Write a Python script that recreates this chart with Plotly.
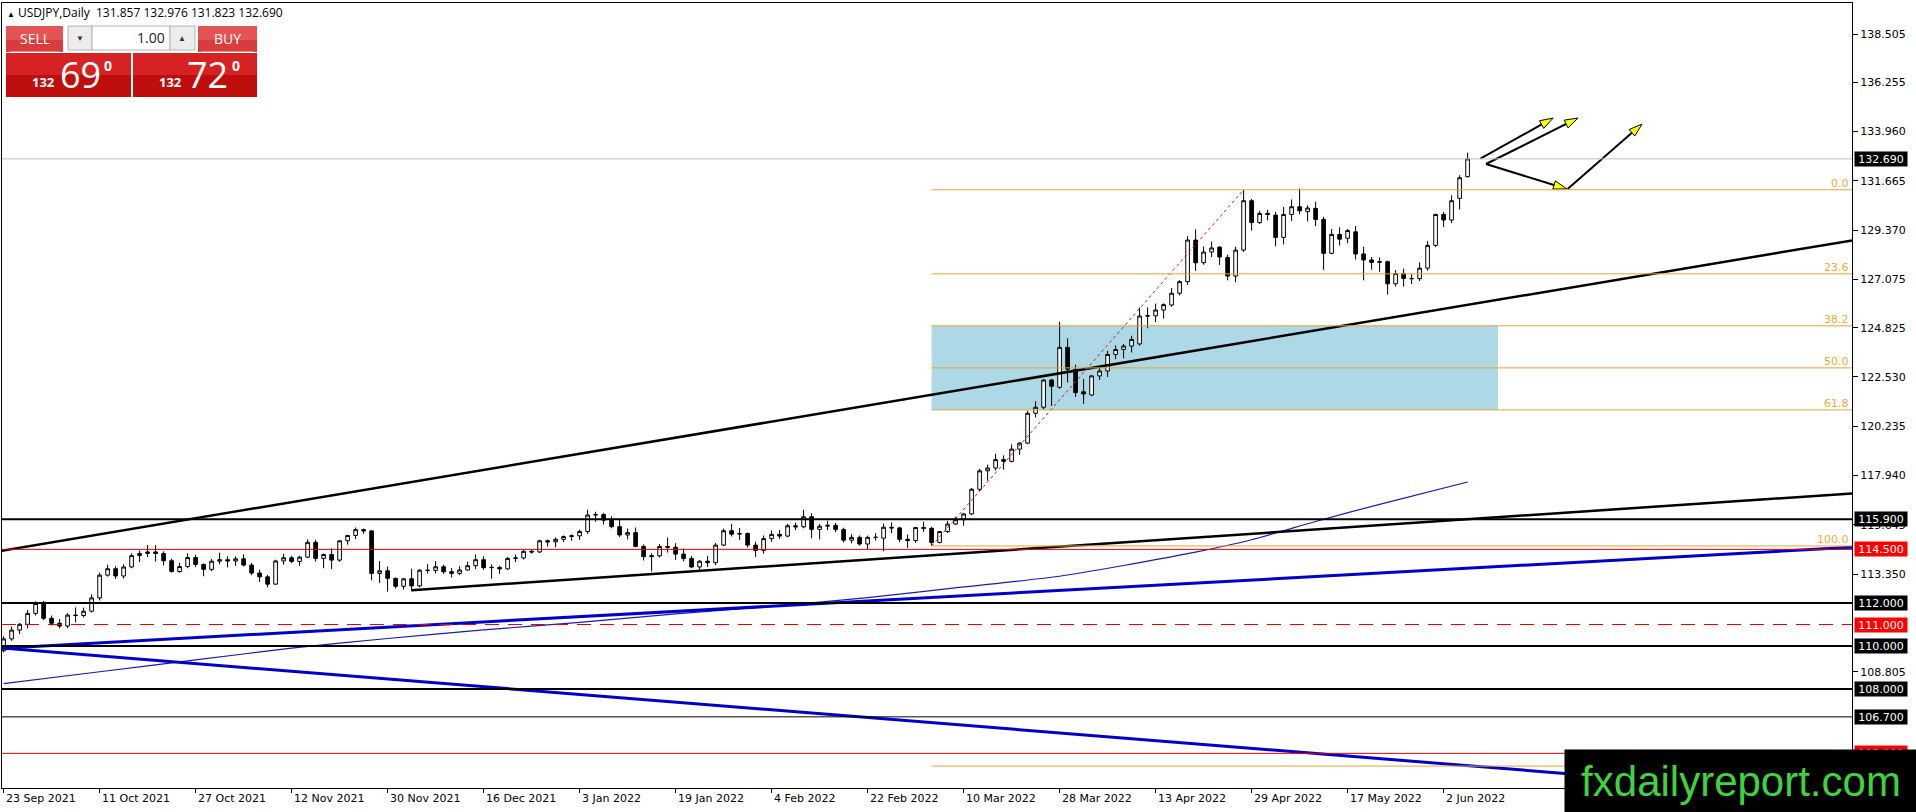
import plotly.graph_objects as go

# daily USDJPY candles, one bar per weekday, bar 0 = 23 Sep 2021, bar 183 = 7 Jun 2022
OPEN = [109.78, 110.33, 110.74, 111.01, 111.52, 111.98, 111.29, 111.06, 110.93, 111.44,
        111.42, 111.62, 112.24, 113.30, 113.60, 113.26, 113.68, 114.21, 114.31, 114.38,
        114.31, 113.97, 113.47, 113.70, 114.12, 113.80, 113.57, 113.95, 114.02, 113.96,
        114.06, 113.77, 113.40, 113.22, 112.88, 113.96, 114.11, 113.94, 114.14, 114.83,
        114.08, 114.26, 114.00, 114.90, 115.15, 115.42, 115.36, 113.38, 113.50, 113.15,
        112.78, 113.13, 112.80, 113.53, 113.52, 113.69, 113.46, 113.38, 113.54, 113.74,
        114.02, 113.65, 113.66, 113.59, 114.08, 114.10, 114.41, 114.38, 114.90, 114.85,
        114.97, 115.10, 115.13, 115.33, 116.10, 116.12, 115.86, 115.56, 115.17, 115.28,
        114.64, 114.16, 114.20, 114.63, 114.60, 114.28, 114.07, 113.68, 113.95, 113.88,
        114.70, 115.37, 115.21, 115.24, 114.70, 114.45, 115.00, 115.20, 115.12, 115.60,
        115.55, 116.02, 115.43, 115.58, 115.62, 115.43, 114.93, 115.06, 114.75, 115.06,
        115.02, 115.53, 115.50, 114.97, 114.91, 115.52, 115.48, 114.82, 115.33, 115.68,
        115.88, 116.15, 117.30, 118.16, 118.29, 118.68, 118.60, 119.17, 119.45, 120.84,
        121.12, 122.39, 122.05, 123.91, 122.89, 121.84, 121.69, 122.58, 122.81, 123.58,
        123.81, 123.97, 124.07, 125.37, 125.38, 125.65, 125.88, 126.43, 126.97, 128.91,
        127.85, 128.35, 128.58, 128.10, 127.23, 128.44, 130.74, 129.72, 130.15, 130.07,
        129.03, 130.10, 130.46, 130.23, 130.38, 129.87, 128.29, 129.17, 128.99, 129.29,
        128.26, 127.98, 127.87, 127.90, 126.87, 127.35, 127.12, 127.11, 127.60, 128.66,
        130.10, 129.84, 130.85, 131.857]
HIGH = [110.45, 110.90, 111.07, 111.68, 112.08, 112.10, 111.42, 111.26, 111.53, 111.80,
        111.79, 112.40, 113.42, 113.79, 113.72, 113.81, 114.32, 114.45, 114.70, 114.70,
        114.41, 114.07, 113.88, 114.32, 114.25, 113.85, 114.05, 114.35, 114.18, 114.18,
        114.27, 113.87, 113.55, 113.31, 114.02, 114.30, 114.20, 114.21, 114.97, 114.95,
        114.31, 114.55, 114.93, 115.16, 115.52, 115.47, 115.40, 113.96, 113.70, 113.18,
        113.17, 113.60, 113.58, 113.81, 113.96, 113.79, 113.64, 113.72, 113.93, 114.26,
        114.18, 113.80, 113.75, 114.15, 114.26, 114.48, 114.51, 114.95, 114.96, 115.06,
        115.15, 115.20, 115.42, 116.35, 116.25, 116.20, 116.04, 115.87, 115.48, 115.52,
        114.73, 114.32, 114.75, 115.05, 114.79, 114.54, 114.20, 114.00, 114.20, 114.80,
        115.47, 115.69, 115.50, 115.29, 114.86, 115.15, 115.38, 115.40, 115.69, 115.74,
        116.34, 116.18, 115.68, 115.83, 115.73, 115.51, 115.21, 115.15, 115.14, 115.25,
        115.70, 115.76, 115.55, 115.19, 115.54, 115.79, 115.55, 115.35, 115.82, 116.02,
        116.20, 117.36, 118.25, 118.45, 118.95, 118.88, 119.39, 119.50, 120.96, 121.40,
        122.42, 122.44, 125.10, 124.33, 123.10, 122.44, 122.62, 123.04, 123.75, 124.00,
        124.07, 124.45, 125.76, 125.77, 125.95, 125.96, 126.68, 127.04, 129.09, 129.40,
        128.61, 128.84, 128.62, 128.23, 128.60, 131.25, 130.82, 130.27, 130.32, 130.22,
        130.45, 130.80, 131.31, 130.53, 130.69, 129.99, 129.42, 129.50, 129.42, 129.56,
        128.60, 128.12, 128.10, 127.95, 127.51, 127.58, 127.33, 127.87, 128.87, 130.14,
        130.22, 130.99, 131.93, 132.976]
LOW = [109.70, 110.24, 110.56, 110.82, 111.42, 111.21, 110.95, 110.82, 110.83, 111.10,
       111.33, 111.56, 112.12, 113.23, 113.12, 113.14, 113.62, 113.91, 114.14, 113.93,
       113.75, 113.42, 113.41, 113.62, 113.67, 113.25, 113.48, 113.81, 113.66, 113.73,
       113.71, 113.30, 112.98, 112.73, 112.86, 113.79, 113.86, 113.73, 114.09, 113.93,
       113.62, 113.58, 113.92, 114.72, 114.98, 115.23, 113.06, 112.93, 112.53, 112.68,
       112.63, 112.55, 112.73, 113.37, 113.38, 113.36, 113.19, 113.30, 113.52, 113.58,
       113.55, 113.14, 113.36, 113.55, 113.91, 114.03, 114.30, 114.33, 114.63, 114.60,
       114.84, 114.90, 114.94, 115.22, 115.79, 115.66, 115.48, 115.07, 114.96, 114.60,
       113.98, 113.47, 114.12, 114.35, 114.01, 113.94, 113.62, 113.47, 113.68, 113.76,
       114.65, 115.10, 114.94, 114.58, 114.15, 114.30, 114.85, 114.99, 115.06, 115.40,
       115.48, 115.02, 114.96, 115.40, 115.30, 114.82, 114.78, 114.68, 114.52, 114.91,
       114.41, 115.26, 114.84, 114.57, 114.80, 115.32, 114.66, 114.78, 115.26, 115.63,
       115.60, 116.09, 117.21, 117.70, 118.17, 118.21, 118.55, 118.90, 119.40, 120.64,
       121.01, 121.18, 121.98, 122.27, 121.60, 121.28, 121.64, 122.39, 122.53, 123.36,
       123.40, 123.67, 123.99, 124.80, 125.09, 125.25, 125.80, 126.33, 126.82, 127.47,
       127.76, 128.12, 127.75, 127.03, 126.95, 128.36, 129.35, 129.66, 129.82, 128.62,
       128.70, 129.80, 130.11, 129.77, 129.56, 127.51, 128.25, 128.65, 128.76, 128.00,
       127.03, 127.53, 127.43, 126.37, 126.74, 126.74, 126.86, 127.00, 127.48, 128.58,
       129.52, 129.70, 130.33, 131.823]
CLOSE = [110.33, 110.74, 111.01, 111.52, 111.98, 111.29, 111.06, 110.93, 111.44, 111.42,
         111.62, 112.24, 113.30, 113.60, 113.26, 113.68, 114.21, 114.31, 114.38, 114.31,
         113.97, 113.47, 113.70, 114.12, 113.80, 113.57, 113.95, 114.02, 113.96, 114.06,
         113.77, 113.40, 113.22, 112.88, 113.96, 114.11, 113.94, 114.14, 114.83, 114.08,
         114.26, 114.00, 114.90, 115.15, 115.42, 115.36, 113.38, 113.50, 113.15, 112.78,
         113.13, 112.80, 113.53, 113.52, 113.69, 113.46, 113.38, 113.54, 113.74, 114.02,
         113.65, 113.66, 113.59, 114.08, 114.10, 114.41, 114.38, 114.90, 114.85, 114.97,
         115.10, 115.13, 115.33, 116.10, 116.12, 115.86, 115.56, 115.17, 115.28, 114.64,
         114.16, 114.20, 114.63, 114.60, 114.28, 114.07, 113.68, 113.95, 113.88, 114.70,
         115.37, 115.21, 115.24, 114.70, 114.45, 115.00, 115.20, 115.12, 115.60, 115.55,
         116.02, 115.43, 115.58, 115.62, 115.43, 114.93, 115.06, 114.75, 115.06, 115.06,
         115.53, 115.50, 114.97, 114.91, 115.52, 115.48, 114.82, 115.33, 115.68, 115.88,
         116.15, 117.30, 118.16, 118.29, 118.68, 118.60, 119.17, 119.45, 120.84, 121.12,
         122.39, 122.10, 123.91, 122.89, 121.80, 121.74, 122.58, 122.81, 123.58, 123.81,
         123.97, 124.28, 125.37, 125.38, 125.65, 125.90, 126.43, 126.97, 128.91, 127.85,
         128.35, 128.54, 128.12, 127.23, 128.44, 130.74, 129.72, 130.15, 130.10, 129.03,
         130.10, 130.46, 130.27, 130.40, 129.87, 128.29, 129.17, 128.95, 129.35, 128.26,
         127.98, 127.87, 127.90, 126.87, 127.35, 127.12, 127.11, 127.60, 128.66, 130.10,
         129.84, 130.74, 131.81, 132.690]
BARS = list(range(len(OPEN)))

# moving average (thin blue), read at a few bars
MA_BARS = [0, 12, 24, 36, 48, 60, 72, 84, 96, 108, 120, 132, 140, 148, 156, 164, 172, 183]
MA_VALUES = [108.25, 108.80, 109.35, 109.90, 110.35, 110.75, 111.10, 111.50, 111.85, 112.25,
             112.75, 113.25, 113.75, 114.30, 114.95, 115.80, 116.60, 117.64]

DATE_TICK_BARS = [0, 12, 24, 36, 48, 60, 72, 84, 96, 108, 120, 132, 144, 156, 168, 180]
DATE_TICK_LABELS = ["23 Sep 2021", "11 Oct 2021", "27 Oct 2021", "12 Nov 2021", "30 Nov 2021",
                    "16 Dec 2021", "3 Jan 2022", "19 Jan 2022", "4 Feb 2022", "22 Feb 2022",
                    "10 Mar 2022", "28 Mar 2022", "13 Apr 2022", "29 Apr 2022", "17 May 2022",
                    "2 Jun 2022"]
PRICE_TICKS = [138.505, 136.255, 133.960, 131.665, 129.370, 127.075, 124.825, 122.530,
               120.235, 117.940, 115.645, 113.350, 108.805]

# horizontal levels and their tags on the price scale
LEVEL_PRICES = [115.900, 114.500, 112.000, 111.000, 110.000, 108.000, 106.700, 105.000]
LEVEL_STYLES = ["black", "red", "black", "reddash", "black", "black", "thin", "red"]
CURRENT_PRICE = 132.690

# fibonacci retracement: from the 4 Mar low to the 28 Apr high
FIB_BARS = [116, 155]
FIB_PRICES = [114.66, 131.25]
FIB_RATIOS = [0.0, 23.6, 38.2, 50.0, 61.8, 100.0, 161.8]
ZONE_END_BAR = 186.8

# trendlines (bar, price) pairs
UPPER_TREND = ([-1, 232], [114.39, 128.95])
LOWER_TREND = ([51, 232], [112.60, 117.13])
BLUE_RISING = ([-1, 232], [109.88, 114.62])
BLUE_FALLING = ([-1, 232], [109.93, 102.96])

# projection arrows
ARROW_BARS = [[184.6, 193.7], [185.3, 196.8], [185.3, 195.4], [195.5, 204.8]]
ARROW_PRICES = [[132.70, 134.59], [132.45, 134.59], [132.45, 131.29], [131.29, 134.31]]

# ---- page geometry (pixels) ----
FW, FH = 1916, 812
L, T, R, B = 2, 3, 64, 24
PW, PH = FW - L - R, FH - T - B
X_RANGE = [-0.2, 231.05]
Y_RANGE = [103.386, 139.949]


def px(x):
    return (x - L) / PW


def py(y):
    return (FH - B - y) / PH


AXIS_FONT = dict(family="DejaVu Sans", size=11, color="black")
FIB_COLOR = "#e5a533"

fig = go.Figure()

fig.add_trace(go.Candlestick(
    x=BARS, open=OPEN, high=HIGH, low=LOW, close=CLOSE,
    increasing=dict(line=dict(color="black", width=1), fillcolor="white"),
    decreasing=dict(line=dict(color="black", width=1), fillcolor="black"),
    whiskerwidth=0, hoverinfo="skip",
))

fig.add_trace(go.Scatter(x=MA_BARS, y=MA_VALUES, mode="lines",
                         line=dict(color="#1c1cb0", width=1.2, shape="spline", smoothing=0.6)))
for line_x, line_y in (BLUE_RISING, BLUE_FALLING):
    fig.add_trace(go.Scatter(x=line_x, y=line_y, mode="lines", line=dict(color="#0000c8", width=3)))
for line_x, line_y in (UPPER_TREND, LOWER_TREND):
    fig.add_trace(go.Scatter(x=line_x, y=line_y, mode="lines", line=dict(color="black", width=2.5)))
fig.add_trace(go.Scatter(x=FIB_BARS, y=FIB_PRICES, mode="lines",
                         line=dict(color="#d01818", width=1, dash="dot")))

for ax, ay in zip(ARROW_BARS, ARROW_PRICES):
    fig.add_trace(go.Scatter(
        x=ax, y=ay, mode="lines+markers",
        line=dict(color="black", width=2),
        marker=dict(symbol="arrow", angleref="previous", size=[0, 14], opacity=[0, 1],
                    color="#ffff00", line=dict(color="black", width=1)),
    ))

# zone between fib 38.2 and 61.8
fib_range = FIB_PRICES[1] - FIB_PRICES[0]
fib_level = {r: FIB_PRICES[1] - fib_range * r / 100 for r in FIB_RATIOS}
fig.add_shape(type="rect", xref="x", yref="y", x0=FIB_BARS[0], x1=ZONE_END_BAR,
              y0=fib_level[61.8], y1=fib_level[38.2], fillcolor="#add8e6",
              line=dict(width=0), layer="below")

for r in FIB_RATIOS:
    fig.add_shape(type="line", xref="x", yref="y", x0=FIB_BARS[0], x1=X_RANGE[1],
                  y0=fib_level[r], y1=fib_level[r], line=dict(color=FIB_COLOR, width=1), layer="above")
    fig.add_annotation(xref="paper", yref="y", x=1, y=fib_level[r], text=f"{r:.1f}",
                       showarrow=False, xanchor="right", yanchor="bottom", xshift=-1, yshift=-2,
                       font=dict(family="DejaVu Sans", size=11, color="#f0a838"))

style_map = {
    "black": dict(color="black", width=2),
    "thin": dict(color="black", width=1),
    "red": dict(color="#e00000", width=1),
    "reddash": dict(color="#e00000", width=1, dash="14px,9px"),
}
fig.add_shape(type="line", xref="paper", yref="y", x0=0, x1=1, y0=CURRENT_PRICE, y1=CURRENT_PRICE,
              line=dict(color="#c0c0c0", width=1), layer="above")
for lvl, st in zip(LEVEL_PRICES, LEVEL_STYLES):
    fig.add_shape(type="line", xref="paper", yref="y", x0=0, x1=1, y0=lvl, y1=lvl,
                  line=style_map[st], layer="above")

# price tags on the right scale
tags = [(CURRENT_PRICE, "black")] + [(lvl, "#ff0000" if st.startswith("red") else "black")
                                     for lvl, st in zip(LEVEL_PRICES, LEVEL_STYLES)]
for lvl, bg in tags:
    fig.add_annotation(xref="paper", yref="y", x=1, y=lvl, text=f"{lvl:.3f}", showarrow=False,
                       xanchor="left", yanchor="middle", xshift=2, width=50, height=12,
                       bgcolor=bg, borderpad=1, font=dict(family="DejaVu Sans", size=11, color="white"))

# date labels, left aligned at their tick like the terminal does
for b, lab in zip(DATE_TICK_BARS, DATE_TICK_LABELS):
    fig.add_annotation(xref="x", yref="paper", x=b, y=0, text=lab, showarrow=False,
                       xanchor="left", yanchor="top", xshift=0, yshift=-2, font=AXIS_FONT)

# ---- trading panel (top left) ----
def rect(x0, y0, x1, y1, fill, edge=None):
    fig.add_shape(type="rect", xref="paper", yref="paper", x0=px(x0), x1=px(x1), y0=py(y1), y1=py(y0),
                  fillcolor=fill, line=dict(color=edge or fill, width=1 if edge else 0), layer="above")


def text(x, y, s, size, color="white", anchor="center", family="Open Sans", bold=False):
    fig.add_annotation(xref="paper", yref="paper", x=px(x), y=py(y), text=f"<b>{s}</b>" if bold else s,
                       showarrow=False, xanchor=anchor, yanchor="middle", borderpad=0,
                       font=dict(family=family, size=size, color=color))


rect(6, 26, 63, 40, "#e45454")
rect(6, 40, 63, 52, "#d83c3c")
rect(198, 26, 257, 40, "#e45454")
rect(198, 40, 257, 52, "#d83c3c")
rect(10, 51, 60, 52, "#f08a8a")
rect(201, 51, 254, 52, "#f08a8a")
rect(68, 26, 92, 50, "#ececec", "#b4b4b4")
rect(92, 26, 170, 50, "white", "#b4b4b4")
rect(170, 26, 195, 50, "#ececec", "#b4b4b4")
rect(6, 53, 131, 75, "#d62222")
rect(6, 75, 131, 97, "#bf0e0e")
rect(133, 53, 257, 75, "#d62222")
rect(133, 75, 257, 97, "#bf0e0e")

text(6, 13, "<span style='font-size:8px'>▲</span> USDJPY,Daily\u00a0 131.857 132.976 131.823 132.690",
     12, color="black", anchor="left")
text(35, 39, "SELL", 14)
text(227, 39, "BUY", 14)
text(80, 38, "▼", 8, color="#333333")
text(182, 38, "▲", 8, color="#333333")
text(166, 38, "1.00", 14, color="#222222", anchor="right")
text(43, 82, "132", 13, bold=True)
text(80, 75, "69", 36)
text(108, 66, "0", 14, bold=True)
text(170, 82, "132", 13, bold=True)
text(207, 75, "72", 36)
text(236, 66, "0", 14, bold=True)

# watermark
fig.add_annotation(xref="paper", yref="paper", x=px(1564), y=py(749), xanchor="left", yanchor="top",
                   text="fxdailyreport.com", showarrow=False, width=352, height=63, bgcolor="black",
                   borderpad=0, font=dict(family="Liberation Sans", size=42, color="#3ed43e"))

fig.update_layout(
    width=FW, height=FH,
    margin=dict(l=L, r=R, t=T, b=B),
    paper_bgcolor="white", plot_bgcolor="white",
    showlegend=False, hovermode=False,
    boxgap=0.35,
    xaxis=dict(range=X_RANGE, showgrid=False, zeroline=False, rangeslider=dict(visible=False),
               showline=True, linecolor="black", linewidth=1, mirror=True,
               tickmode="array", tickvals=DATE_TICK_BARS, showticklabels=False,
               ticks="outside", ticklen=4, tickcolor="black"),
    yaxis=dict(range=Y_RANGE, side="right", showgrid=False, zeroline=False,
               showline=True, linecolor="black", linewidth=1, mirror=True,
               tickmode="array", tickvals=PRICE_TICKS, ticktext=[f"{p:.3f}" for p in PRICE_TICKS],
               ticks="outside", ticklen=5, tickcolor="black", tickfont=AXIS_FONT),
)

# the page body margin would push the fixed-size figure off the window
fig.write_html("out.html", config={"displayModeBar": False},
               post_script="document.body.style.margin='0';document.body.style.overflow='hidden';")
